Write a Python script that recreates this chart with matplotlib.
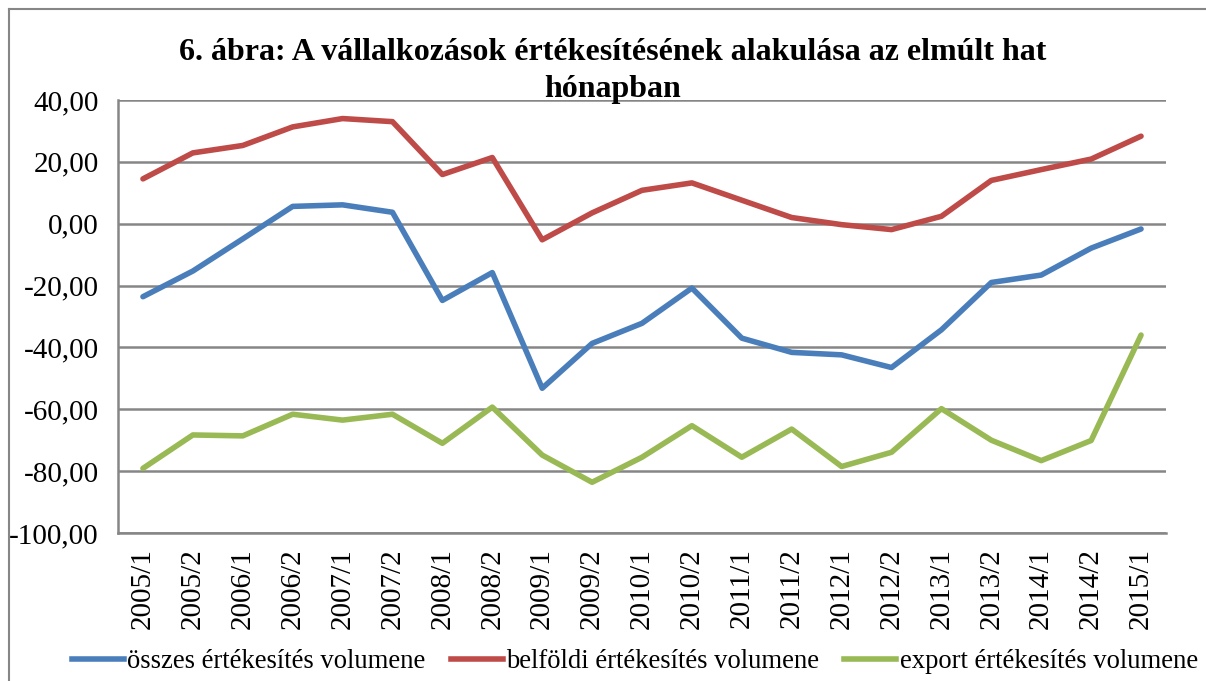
import matplotlib
matplotlib.use('Agg')
import matplotlib.pyplot as plt
from matplotlib.lines import Line2D
from matplotlib.ticker import FuncFormatter

plt.rcParams['font.family'] = ['Liberation Serif', 'DejaVu Serif']

periods = ['2005/1', '2005/2', '2006/1', '2006/2', '2007/1', '2007/2', '2008/1',
           '2008/2', '2009/1', '2009/2', '2010/1', '2010/2', '2011/1', '2011/2',
           '2012/1', '2012/2', '2013/1', '2013/2', '2014/1', '2014/2', '2015/1']

osszes = [-23.6, -15.3, -4.9, 5.6, 6.1, 3.7, -24.8, -15.8, -53.2, -38.7, -32.2,
          -20.8, -37.0, -41.6, -42.4, -46.5, -34.3, -19.0, -16.6, -7.9, -1.7]
belfoldi = [14.5, 22.9, 25.3, 31.3, 34.0, 33.0, 15.9, 21.4, -5.2, 3.5, 10.8,
            13.2, 7.6, 2.0, -0.3, -1.9, 2.4, 14.0, 17.5, 20.9, 28.3]
export = [-79.1, -68.3, -68.6, -61.6, -63.5, -61.6, -71.0, -59.3, -74.8, -83.6,
          -75.5, -65.3, -75.5, -66.4, -78.5, -73.9, -59.8, -70.0, -76.6, -70.1, -36.0]

series_names = ['összes értékesítés volumene', 'belföldi értékesítés volumene',
                'export értékesítés volumene']
colors = ['#4a7ebb', '#be4b48', '#98b954']

fig = plt.figure(figsize=(12.06, 6.81), dpi=100)
W, H = 1206, 681

# outer chart frame (left and top visible)
fig.add_artist(Line2D([9 / W, 9 / W], [0, 1 - 9 / H], color='#868686', lw=1.5))
fig.add_artist(Line2D([9 / W, 1], [1 - 9 / H, 1 - 9 / H], color='#868686', lw=1.5))

ax = fig.add_axes([118 / W, 1 - 533 / H, (1166 - 118) / W, (533 - 100) / H])

x = list(range(len(periods)))
for vals, c in zip([osszes, belfoldi, export], colors):
    ax.plot(x, vals, color=c, lw=4, solid_capstyle='round', solid_joinstyle='round', zorder=3)

ax.set_xlim(-0.5, len(periods) - 0.5)
ax.set_ylim(-100, 40)
ax.set_yticks(range(-100, 41, 20))
ax.yaxis.set_major_formatter(FuncFormatter(lambda v, p: f'{v:.2f}'.replace('.', ',')))
ax.set_xticks(x)
ax.set_xticklabels(periods, rotation=90)
ax.tick_params(axis='y', length=0, labelsize=21, pad=14)
ax.tick_params(axis='x', length=0, labelsize=21, pad=11)
ax.grid(axis='y', color='#868686', lw=1.8)
ax.set_axisbelow(True)
for s in ['top', 'right']:
    ax.spines[s].set_visible(False)
for s in ['left', 'bottom']:
    ax.spines[s].set_color('#868686')
    ax.spines[s].set_linewidth(1.8)

fig.text(613 / W, 1 - 71 / H, '6. ábra: A vállalkozások értékesítésének alakulása az elmúlt hat\nhónapban',
         ha='center', va='center', fontsize=23, fontweight='bold', linespacing=1.38)

handles = [Line2D([0], [0], color=c, lw=4) for c in colors]
fig.legend(handles, series_names, loc='center', bbox_to_anchor=(635 / W, 1 - 662 / H),
           ncol=3, frameon=False, fontsize=19.2, handlelength=1.95, handletextpad=0.12,
           columnspacing=0.95)

fig.savefig('out.png', dpi=100)
